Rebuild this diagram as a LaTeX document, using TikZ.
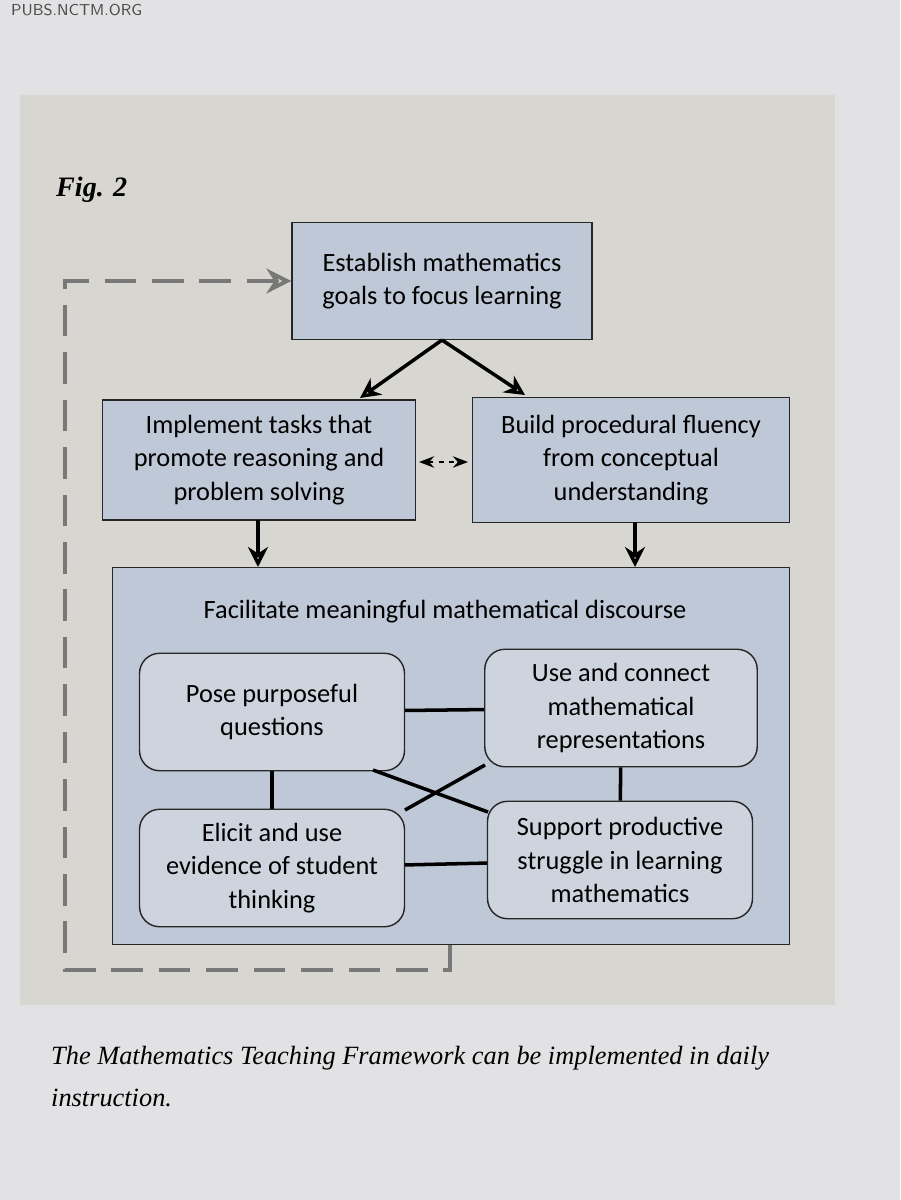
\documentclass[tikz,border=0pt]{standalone}
\usepackage{fontspec}
\setmainfont{Liberation Serif}
\newfontfamily\boxfont{Carlito}
\usetikzlibrary{arrows.meta,positioning}
\definecolor{pagegray}{RGB}{226,226,228}
\definecolor{panel}{RGB}{216,214,208}
\definecolor{boxblue}{RGB}{190,200,214}
\definecolor{innerblue}{RGB}{206,212,222}
\definecolor{loopgray}{RGB}{120,120,120}
\tikzset{
  frame/.style={draw=black!85, thick, fill=boxblue, align=center, font=\boxfont\fontsize{15}{19}\selectfont, inner sep=2pt},
  practice/.style={draw=black!85, thick, fill=innerblue, rounded corners=2.5ex, align=center, font=\boxfont\fontsize{15}{19}\selectfont, minimum width=5.3cm, minimum height=2.35cm},
  flow/.style={line width=2pt, -{Stealth[length=4mm,width=4mm,open]}},
  link/.style={line width=2pt}
}
\begin{document}
\begin{tikzpicture}[x=0.02cm,y=-0.02cm]
    \useasboundingbox (0,0) rectangle (900,1200);
    \fill[pagegray] (0,0) rectangle (900,1200);
    \fill[panel] (20,95) rectangle (835,1005);

    \node[font=\sffamily\small, text=black!70, anchor=west] at (5,10) {PUBS.NCTM.ORG};
    \node[font=\bfseries\itshape\fontsize{16}{18}\selectfont, anchor=west] at (50,190) {Fig. 2};

    % top row
    \node[frame, minimum width=6.0cm, minimum height=2.35cm] (goals) at (442,281) {Establish mathematics\\goals to focus learning};
    \node[frame, minimum width=6.25cm, minimum height=2.4cm] (tasks) at (259,460) {Implement tasks that\\promote reasoning and\\problem solving};
    \node[frame, minimum width=6.35cm, minimum height=2.5cm] (fluency) at (631,460) {Build procedural fluency\\from conceptual\\understanding};

    % discourse
    \node[frame, minimum width=13.55cm, minimum height=7.55cm] (discourse) at (451,756) {};
    \node[font=\boxfont\fontsize{15}{19}\selectfont] (title) at (445,612) {Facilitate meaningful mathematical discourse};
    \node[practice] (pose) at (272,712) {Pose purposeful\\questions};
    \node[practice, minimum width=5.45cm] (repr) at (621,708) {Use and connect\\mathematical\\representations};
    \node[practice] (elicit) at (272,868) {Elicit and use\\evidence of student\\thinking};
    \node[practice] (struggle) at (620,860) {Support productive\\struggle in learning\\mathematics};

    % arrows
    \coordinate (apex) at (442,340);
    \draw[flow] (apex) -- (360,398);
    \draw[flow] (apex) -- (525,395);
    \draw[line width=1.6pt, dashed, {Stealth[length=3mm,open]}-{Stealth[length=3mm,open]}] (419,462) -- (468,462);
    \draw[flow] (258,520) -- (258,567);
    \draw[flow] (635,522) -- (635,567);

    % links
    \draw[link] (pose) -- (repr);
    \draw[link] (elicit) -- (struggle);
    \draw[link] (pose) -- (elicit);
    \draw[link] (repr) -- (struggle);
    \draw[link] (373,770) -- (488,812);
    \draw[link] (405,810) -- (485,765);

    % feedback loop
    \draw[loopgray, line width=2.2pt, dash pattern=on 18pt off 9pt, -{Stealth[length=5mm,width=5mm,open]}]
        (450,945) -- (450,970) -- (65,970) -- (65,281) -- (goals.west);

    % caption
    \node[font=\itshape\fontsize{15}{24}\selectfont, anchor=north west, align=left] at (45,1040)
        {The Mathematics Teaching Framework can be implemented in daily\\instruction.};
\end{tikzpicture}
\end{document}
